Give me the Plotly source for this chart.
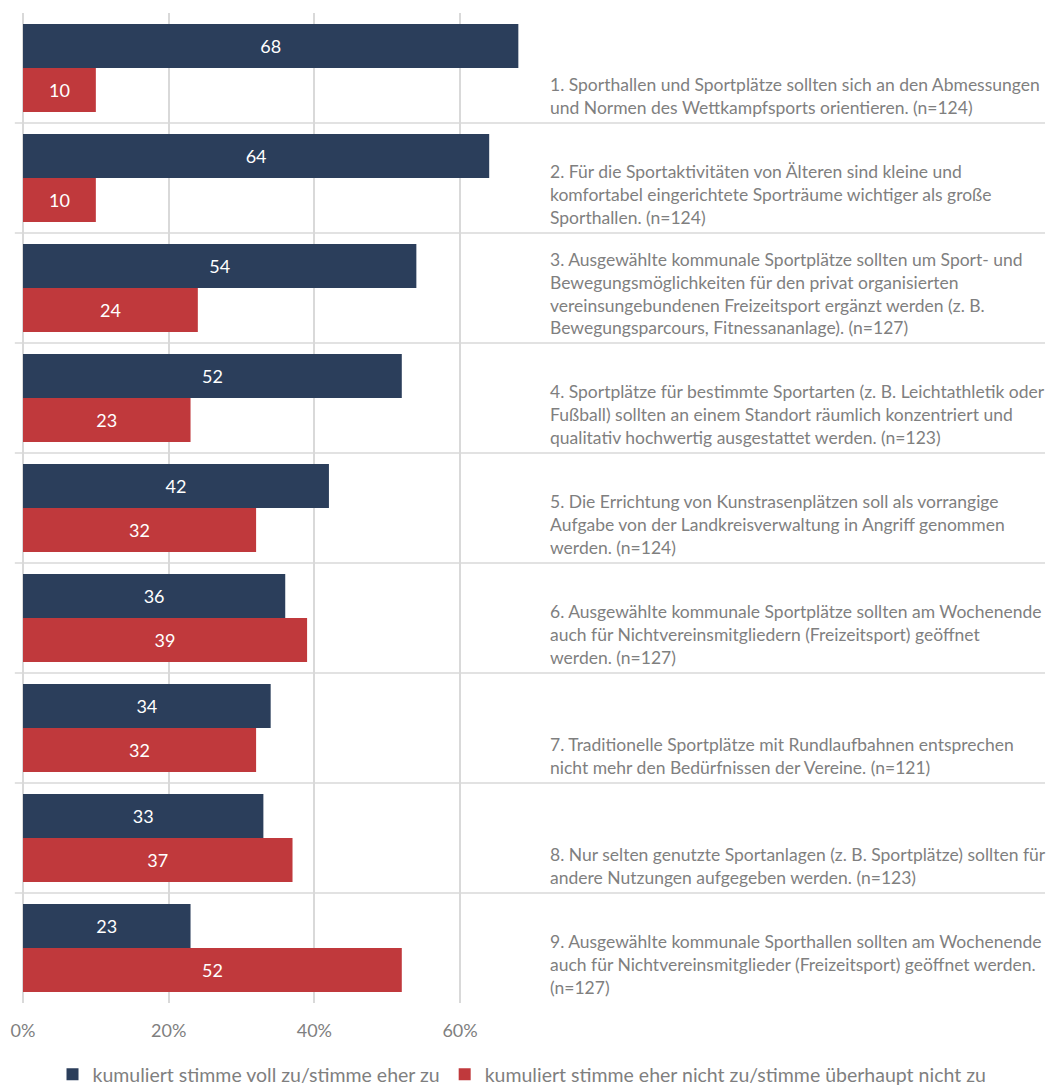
import plotly.graph_objects as go

# Data
statements = [
    "1. Sporthallen und Sportplätze sollten sich an den Abmessungen<br>und Normen des Wettkampfsports orientieren. (n=124)",
    "2. Für die Sportaktivitäten von Älteren sind kleine und<br>komfortabel eingerichtete Sporträume wichtiger als große<br>Sporthallen. (n=124)",
    "3. Ausgewählte kommunale Sportplätze sollten um Sport- und<br>Bewegungsmöglichkeiten für den privat organisierten<br>vereinsungebundenen Freizeitsport ergänzt werden (z. B.<br>Bewegungsparcours, Fitnessananlage). (n=127)",
    "4. Sportplätze für bestimmte Sportarten (z. B. Leichtathletik oder<br>Fußball) sollten an einem Standort räumlich konzentriert und<br>qualitativ hochwertig ausgestattet werden. (n=123)",
    "5. Die Errichtung von Kunstrasenplätzen soll als vorrangige<br>Aufgabe von der Landkreisverwaltung in Angriff genommen<br>werden. (n=124)",
    "6. Ausgewählte kommunale Sportplätze sollten am Wochenende<br>auch für Nichtvereinsmitgliedern (Freizeitsport) geöffnet<br>werden. (n=127)",
    "7. Traditionelle Sportplätze mit Rundlaufbahnen entsprechen<br>nicht mehr den Bedürfnissen der Vereine. (n=121)",
    "8. Nur selten genutzte Sportanlagen (z. B. Sportplätze) sollten für<br>andere Nutzungen aufgegeben werden. (n=123)",
    "9. Ausgewählte kommunale Sporthallen sollten am Wochenende<br>auch für Nichtvereinsmitglieder (Freizeitsport) geöffnet werden.<br>(n=127)",
]
categories = [s.split(".")[0] for s in statements]
agree = [68, 64, 54, 52, 42, 36, 34, 33, 23]
disagree = [10, 10, 24, 23, 32, 39, 32, 37, 52]
series_names = [
    "kumuliert stimme voll zu/stimme eher zu",
    "kumuliert stimme eher nicht zu/stimme überhaupt nicht zu",
]
tick_vals = [0, 20, 40, 60]
tick_text = ["0%", "20%", "40%", "60%"]

NAVY = "#2b3e5b"
RED = "#c0393c"
GRID = "#d9d9d9"
GRAY = "#7f7f7f"
FONT = "Lato"

fig = go.Figure()
for name, vals, color in [(series_names[0], agree, NAVY), (series_names[1], disagree, RED)]:
    fig.add_trace(go.Bar(
        y=categories,
        x=vals,
        orientation="h",
        name=name,
        marker=dict(color=color, line=dict(width=0)),
        text=vals,
        textposition="inside",
        insidetextanchor="middle",
        textfont=dict(color="white", size=18, family=FONT),
    ))

# separator lines between categories
for i in range(len(categories) - 1):
    fig.add_shape(type="line", xref="paper", yref="y",
                  x0=-0.008, x1=1.0, y0=i + 0.5, y1=i + 0.5,
                  line=dict(color=GRID, width=1.5), layer="below")

# statement texts on the right
for i, s in enumerate(statements):
    fig.add_annotation(x=72.1, xref="x", y=i + 0.5, yref="y",
                       text=s, showarrow=False, xanchor="left", yanchor="bottom",
                       yshift=3, align="left",
                       font=dict(size=17.5, color=GRAY, family=FONT))

fig.update_layout(
    width=1049, height=1078,
    barmode="group",
    bargap=0.2,
    bargroupgap=0,
    plot_bgcolor="white",
    paper_bgcolor="white",
    margin=dict(l=15, r=12, t=5, b=83, autoexpand=False),
    font=dict(family=FONT, color=GRAY),
    legend=dict(orientation="h", x=0.49, xanchor="center", xref="container",
                y=-0.0525, yanchor="top", yref="paper",
                font=dict(size=19.5, color=GRAY), traceorder="normal"),
    showlegend=True,
)
fig.update_xaxes(range=[0, 140.3], tickvals=tick_vals, ticktext=tick_text,
                 showgrid=True, gridcolor=GRID, gridwidth=1.5,
                 zeroline=True, zerolinecolor=GRID, zerolinewidth=1.5,
                 tickfont=dict(size=18, color=GRAY), ticklabelstandoff=15,
                 showline=False)
fig.update_yaxes(range=[8.5, -0.5], showticklabels=False, showgrid=False,
                 zeroline=False, showline=False)

fig.write_html("out.html")
